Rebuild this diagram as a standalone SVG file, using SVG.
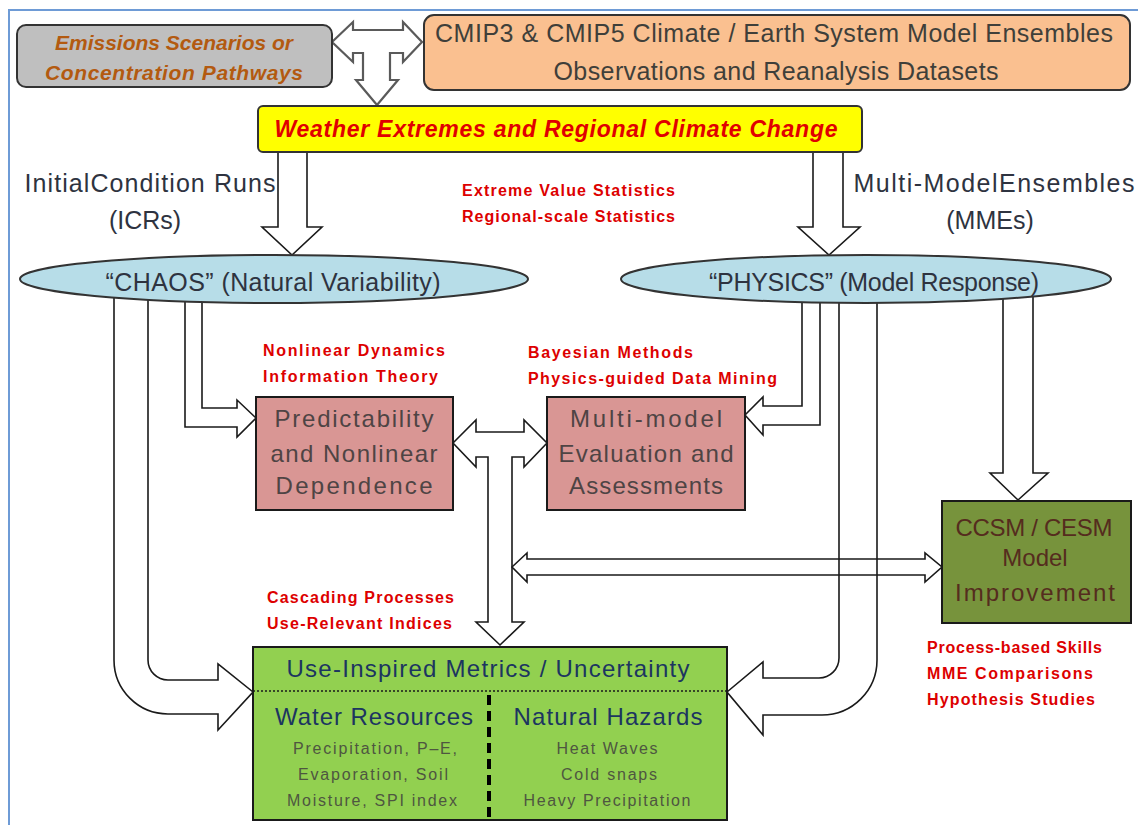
<svg xmlns="http://www.w3.org/2000/svg" width="1138" height="825" viewBox="0 0 1138 825">
<style>
.ar{fill:#fff;stroke:#1a1a1a;stroke-width:1.6;stroke-linejoin:miter}
.arg{fill:#fff;stroke:#5a5a5a;stroke-width:2.2}
.red{font-family:"Liberation Sans",Arial,sans-serif;font-weight:bold;font-size:16px;fill:#dd0000}
.lbl{font-family:"Liberation Sans",Arial,sans-serif;font-size:25px;fill:#2e3340}
.box{font-family:"Liberation Sans",Arial,sans-serif;font-size:24px;fill:#4e4444;text-anchor:middle}
.sm{font-family:"Liberation Sans",Arial,sans-serif;font-size:16px;fill:#4e5640;text-anchor:middle}
.nv{font-family:"Liberation Sans",Arial,sans-serif;font-size:24px;fill:#1c3560;text-anchor:middle}
</style>
<rect x="0" y="0" width="1138" height="825" fill="#fff"/>
<rect x="9" y="10" width="1150" height="840" fill="none" stroke="#6e9bd6" stroke-width="2"/>

<g id="connectors">
  <polygon class="arg" points="332,42 353,22 353,30 403,30 403,22 422,42 403,62 403,53 390,53 390,80 398,80 377,105 356,80 363,80 363,53 353,53 353,62"/>
  <polygon class="ar" points="278,148 307,148 307,227 322,227 292,255 262,227 278,227"/>
  <polygon class="ar" points="813,148 843,148 843,227 860,227 829,255 798,227 813,227"/>
  <polygon class="ar" points="185,285 202,285 202,408 237,408 237,400 256,418 237,437 237,427 185,427"/>
  <polygon class="ar" points="802,285 820,285 820,425 763,425 763,435 745,415 763,397 763,406 802,406"/>
  <path class="ar" d="M114,285 L148,285 L148,660 A20,20 0 0 0 168,680 L218,680 L218,664 L253,692 L218,730 L218,714 L168,714 A54,54 0 0 1 114,660 Z"/>
  <path class="ar" d="M839,285 L877,285 L877,660 A55,55 0 0 1 822,715 L763,715 L763,735 L727,692 L763,662 L763,678 L819,678 A20,20 0 0 0 839,658 Z"/>
  <polygon class="ar" points="1003,285 1033,285 1033,473 1048,473 1018,500 990,473 1003,473"/>
  <polygon class="ar" points="453,443 476,420 476,432 524,432 524,420 547,443 524,467 524,457 512,457 512,622 524,622 500,645 476,622 488,622 488,457 476,457 476,467"/>
  <polygon class="ar" style="fill:none" points="512,567 527,553 527,559 925,559 925,553 942,567 925,582 925,575 527,575 527,582"/>
</g>

<g id="emissions">
  <rect x="17" y="25" width="315" height="62" rx="9" fill="#bfbfbf" stroke="#333" stroke-width="2"/>
  <text x="174" y="50" text-anchor="middle" font-family="Liberation Sans, Arial, sans-serif" font-size="21" font-weight="bold" font-style="italic" fill="#b35a10" textLength="238">Emissions Scenarios or</text>
  <text x="174" y="80" text-anchor="middle" font-family="Liberation Sans, Arial, sans-serif" font-size="21" font-weight="bold" font-style="italic" fill="#b35a10" textLength="258">Concentration Pathways</text>
</g>

<g id="cmip">
  <rect x="424" y="15" width="706" height="75" rx="10" fill="#fac090" stroke="#333" stroke-width="2"/>
  <text x="774" y="42" text-anchor="middle" font-family="Liberation Sans, Arial, sans-serif" font-size="25" fill="#3f3f3a" textLength="678">CMIP3 &amp; CMIP5  Climate / Earth System Model Ensembles</text>
  <text x="776" y="80" text-anchor="middle" font-family="Liberation Sans, Arial, sans-serif" font-size="25" fill="#3f3f3a" textLength="445">Observations and Reanalysis Datasets</text>
</g>

<g id="weather">
  <rect x="258" y="106" width="604" height="46" rx="5" fill="#ffff00" stroke="#333" stroke-width="2"/>
  <text x="556" y="137" text-anchor="middle" font-family="Liberation Sans, Arial, sans-serif" font-size="23" font-weight="bold" font-style="italic" fill="#e00000" textLength="563">Weather Extremes and Regional Climate Change</text>
</g>

<g id="icr-label">
  <text class="lbl" x="150" y="192" text-anchor="middle" textLength="251">InitialCondition Runs</text>
  <text class="lbl" x="145" y="229" text-anchor="middle">(ICRs)</text>
</g>
<g id="mme-label">
  <text class="lbl" x="994" y="192" text-anchor="middle" textLength="281">Multi-ModelEnsembles</text>
  <text class="lbl" x="990" y="229" text-anchor="middle">(MMEs)</text>
</g>
<g id="stats-label">
  <text class="red" x="462" y="196" textLength="213">Extreme  Value  Statistics</text>
  <text class="red" x="462" y="222" textLength="213">Regional-scale  Statistics</text>
</g>

<g id="chaos">
  <ellipse cx="274" cy="279" rx="254" ry="24" fill="#b7dde8" stroke="#333" stroke-width="2"/>
  <text class="lbl" x="273" y="291" text-anchor="middle" textLength="335">“CHAOS” (Natural Variability)</text>
</g>
<g id="physics">
  <ellipse cx="866" cy="279" rx="245" ry="24" fill="#b7dde8" stroke="#333" stroke-width="2"/>
  <text class="lbl" x="874" y="291" text-anchor="middle" textLength="330">“PHYSICS” (Model Response)</text>
</g>

<g id="nonlinear-label">
  <text class="red" x="263" y="356" textLength="182">Nonlinear  Dynamics</text>
  <text class="red" x="263" y="382" textLength="175">Information  Theory</text>
</g>
<g id="bayes-label">
  <text class="red" x="528" y="358" textLength="165">Bayesian  Methods</text>
  <text class="red" x="528" y="384" textLength="249">Physics-guided  Data  Mining</text>
</g>

<g id="predictability">
  <rect x="256" y="397" width="197" height="113" fill="#d99694" stroke="#1a1a1a" stroke-width="2"/>
  <text class="box" x="354" y="427" textLength="159">Predictability</text>
  <text class="box" x="354" y="462" textLength="167">and Nonlinear</text>
  <text class="box" x="354" y="494" textLength="157">Dependence</text>
</g>
<g id="multimodel">
  <rect x="547" y="397" width="198" height="113" fill="#d99694" stroke="#1a1a1a" stroke-width="2"/>
  <text class="box" x="646" y="427" textLength="152">Multi-model</text>
  <text class="box" x="646" y="462" textLength="175">Evaluation and</text>
  <text class="box" x="646" y="494" textLength="154">Assessments</text>
</g>

<g id="ccsm">
  <rect x="942" y="501" width="189" height="122" fill="#77933c" stroke="#1a1a1a" stroke-width="2"/>
  <text class="box" x="1034" y="536" style="fill:#552c1e" textLength="157">CCSM / CESM</text>
  <text class="box" x="1035" y="566" style="fill:#552c1e">Model</text>
  <text class="box" x="1035" y="601" style="fill:#552c1e" textLength="160">Improvement</text>
</g>
<g id="ccsm-label">
  <text class="red" x="927" y="653" textLength="175">Process-based Skills</text>
  <text class="red" x="927" y="679" textLength="166">MME Comparisons</text>
  <text class="red" x="927" y="705" textLength="168">Hypothesis Studies</text>
</g>

<g id="cascade-label">
  <text class="red" x="267" y="603" textLength="187">Cascading  Processes</text>
  <text class="red" x="267" y="629" textLength="185">Use-Relevant Indices</text>
</g>

<g id="metrics">
  <rect x="253" y="647" width="474" height="173" fill="#92d050" stroke="#1a1a1a" stroke-width="2"/>
  <line x1="253" y1="691" x2="727" y2="691" stroke="#1a1a1a" stroke-width="1.5" stroke-dasharray="2 2"/>
  <line x1="489" y1="695" x2="489" y2="818" stroke="#000" stroke-width="4" stroke-dasharray="10 6"/>
  <text class="nv" x="488" y="677" textLength="403">Use-Inspired Metrics / Uncertainty</text>
  <text class="nv" x="374" y="725" textLength="198">Water Resources</text>
  <text class="nv" x="608" y="725" textLength="189">Natural Hazards</text>
  <text class="sm" x="375" y="754" textLength="164">Precipitation,  P–E,</text>
  <text class="sm" x="373" y="780" textLength="150">Evaporation,  Soil</text>
  <text class="sm" x="372" y="806" textLength="170">Moisture, SPI index</text>
  <text class="sm" x="607" y="754" textLength="101">Heat Waves</text>
  <text class="sm" x="609" y="780" textLength="96">Cold snaps</text>
  <text class="sm" x="607" y="806" textLength="167">Heavy Precipitation</text>
</g>
</svg>
